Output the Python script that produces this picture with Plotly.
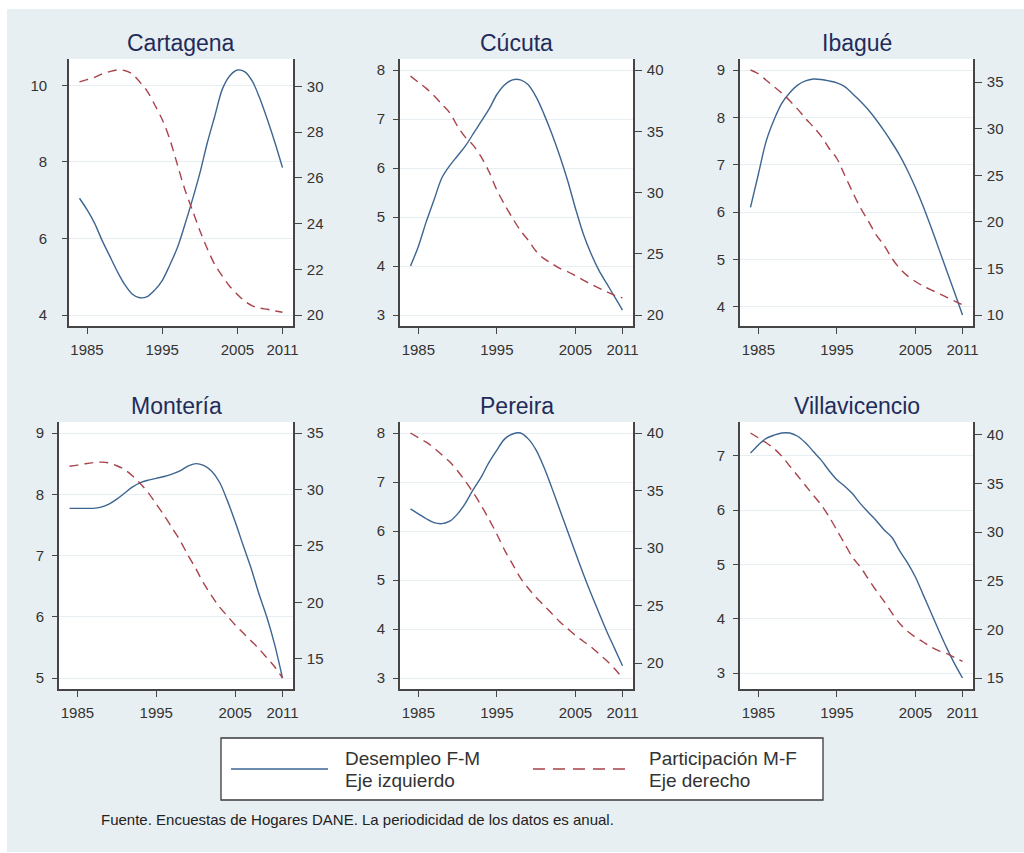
import plotly.graph_objects as go

# ---------------------------------------------------------------- data
years = list(range(1984, 2012))
x_ticks = [1985, 1995, 2005, 2011]

cities = ["Cartagena", "Cúcuta", "Ibagué", "Montería", "Pereira", "Villavicencio"]

# Desempleo F-M (left axis)
desempleo_cartagena = [7.05, 6.75, 6.4, 5.95, 5.55, 5.15, 4.8, 4.55, 4.45, 4.48, 4.65, 4.9, 5.3, 5.75,
                       6.35, 7.0, 7.7, 8.5, 9.2, 9.9, 10.25, 10.4, 10.35, 10.1, 9.65, 9.1, 8.5, 7.85]
desempleo_cucuta = [4.0, 4.4, 4.9, 5.35, 5.8, 6.05, 6.25, 6.45, 6.7, 6.95, 7.2, 7.5, 7.7, 7.8,
                    7.8, 7.7, 7.45, 7.1, 6.7, 6.25, 5.75, 5.18, 4.66, 4.25, 3.91, 3.64, 3.37, 3.1]
desempleo_ibague = [6.1, 6.8, 7.5, 7.95, 8.3, 8.52, 8.68, 8.77, 8.81, 8.8, 8.77, 8.73, 8.65, 8.5,
                    8.34, 8.16, 7.95, 7.72, 7.47, 7.2, 6.88, 6.52, 6.12, 5.68, 5.22, 4.76, 4.3, 3.83]
desempleo_monteria = [7.77, 7.77, 7.77, 7.77, 7.79, 7.84, 7.92, 8.02, 8.12, 8.19, 8.23, 8.26, 8.29, 8.33,
                      8.38, 8.46, 8.5, 8.47, 8.38, 8.2, 7.9, 7.55, 7.17, 6.8, 6.38, 6.0, 5.55, 5.0]
desempleo_pereira = [6.45, 6.35, 6.25, 6.17, 6.15, 6.2, 6.35, 6.57, 6.85, 7.1, 7.4, 7.65, 7.88, 7.98,
                     8.0, 7.88, 7.65, 7.3, 6.88, 6.44, 6.0, 5.56, 5.13, 4.72, 4.33, 3.95, 3.6, 3.25]
desempleo_villavicencio = [7.05, 7.2, 7.32, 7.38, 7.42, 7.42, 7.36, 7.24, 7.08, 6.92, 6.73, 6.56, 6.44, 6.3,
                           6.12, 5.96, 5.81, 5.64, 5.5, 5.25, 5.03, 4.77, 4.44, 4.11, 3.78, 3.46, 3.17, 2.91]

# Participación M-F (right axis)
participacion_cartagena = [30.2, 30.3, 30.4, 30.55, 30.65, 30.72, 30.7, 30.55, 30.2, 29.8, 29.2, 28.55, 27.7, 26.6,
                           25.5, 24.6, 23.7, 22.9, 22.2, 21.7, 21.25, 20.9, 20.6, 20.4, 20.3, 20.25, 20.18, 20.12]
participacion_cucuta = [39.5, 39.0, 38.5, 37.9, 37.2, 36.5, 35.4, 34.5, 33.85, 32.9, 31.7, 30.2, 29.0, 27.9,
                        26.9, 26.1, 25.2, 24.6, 24.2, 23.8, 23.55, 23.2, 22.85, 22.5, 22.2, 21.9, 21.6, 21.4]
participacion_ibague = [36.3, 35.9, 35.2, 34.5, 33.8, 33.0, 32.1, 31.1, 30.2, 29.2, 27.9, 26.8, 25.0, 23.2,
                        21.5, 20.1, 18.6, 17.5, 16.1, 15.0, 14.2, 13.6, 13.1, 12.7, 12.3, 11.9, 11.5, 11.1]
participacion_monteria = [32.05, 32.15, 32.28, 32.38, 32.42, 32.35, 32.1, 31.75, 31.2, 30.5, 29.7, 28.7, 27.7, 26.6,
                          25.5, 24.2, 23.0, 21.7, 20.6, 19.6, 18.8, 18.0, 17.3, 16.6, 15.9, 15.1, 14.3, 13.3]
participacion_pereira = [40.0, 39.6, 39.2, 38.7, 38.1, 37.5, 36.7, 35.8, 34.8, 33.7, 32.5, 31.2, 29.8, 28.6,
                         27.4, 26.5, 25.7, 25.0, 24.3, 23.6, 23.0, 22.4, 21.9, 21.4, 20.8, 20.2, 19.5, 18.7]
participacion_villavicencio = [40.2, 39.7, 39.2, 38.6, 37.8, 36.8, 35.8, 34.8, 33.8, 32.8, 31.6, 30.2, 28.8, 27.4,
                               26.4, 25.2, 24.0, 22.9, 21.7, 20.6, 19.8, 19.2, 18.7, 18.2, 17.8, 17.5, 17.1, 16.7]

left_ticks_cartagena = [4, 6, 8, 10]
left_ticks_cucuta = [3, 4, 5, 6, 7, 8]
left_ticks_ibague = [4, 5, 6, 7, 8, 9]
left_ticks_monteria = [5, 6, 7, 8, 9]
left_ticks_pereira = [3, 4, 5, 6, 7, 8]
left_ticks_villavicencio = [3, 4, 5, 6, 7]

right_ticks_cartagena = [20, 22, 24, 26, 28, 30]
right_ticks_cucuta = [20, 25, 30, 35, 40]
right_ticks_ibague = [10, 15, 20, 25, 30, 35]
right_ticks_monteria = [15, 20, 25, 30, 35]
right_ticks_pereira = [20, 25, 30, 35, 40]
right_ticks_villavicencio = [15, 20, 25, 30, 35, 40]

legend_blue = ["Desempleo F-M", "Eje izquierdo"]
legend_red = ["Participación M-F", "Eje derecho"]
source_note = "Fuente. Encuestas de Hogares DANE. La periodicidad de los datos es anual."

desempleo = [desempleo_cartagena, desempleo_cucuta, desempleo_ibague,
             desempleo_monteria, desempleo_pereira, desempleo_villavicencio]
participacion = [participacion_cartagena, participacion_cucuta, participacion_ibague,
                 participacion_monteria, participacion_pereira, participacion_villavicencio]
left_ticks = [left_ticks_cartagena, left_ticks_cucuta, left_ticks_ibague,
              left_ticks_monteria, left_ticks_pereira, left_ticks_villavicencio]
right_ticks = [right_ticks_cartagena, right_ticks_cucuta, right_ticks_ibague,
               right_ticks_monteria, right_ticks_pereira, right_ticks_villavicencio]

# ---------------------------------------------------------------- layout geometry (pixels)
W, H = 1024, 853
BG = "#e8eff2"
AXIS_COLOR = "#454545"
GRID_COLOR = "#e6eef1"
BLUE = "#3d6591"
RED = "#a8434b"
FONT = "Arial, 'Liberation Sans', sans-serif"

# plot boxes: (left, right, top, bottom)
boxes = [(69, 293, 59, 326), (400, 633, 59, 326), (740, 973, 59, 326),
         (59, 293, 422, 689), (400, 633, 422, 689), (740, 973, 422, 689)]
left_standoff = [12, 5, 5, 5, 5, 5]


def px(x):
    return x / W


def py(y):
    return 1 - y / H


def padded(lo, hi, span_px, pad_px):
    p = (hi - lo) * pad_px / (span_px - 2 * pad_px)
    return [lo - p, hi + p]


fig = go.Figure()
layout = dict(
    width=W, height=H,
    margin=dict(l=0, r=0, t=0, b=0, autoexpand=False),
    paper_bgcolor=BG, plot_bgcolor="white",
    showlegend=False,
    font=dict(family=FONT, color="#333333", size=15),
)

annotations = []
shapes = []

for i in range(6):
    n = i + 1
    xk = "x" if n == 1 else f"x{n}"
    yl = "y" if n == 1 else f"y{2 * n - 1}"
    yr = f"y{2 * n}"
    x0, x1, yt, yb = boxes[i]

    common = dict(showline=True, linecolor=AXIS_COLOR, linewidth=1.6, ticks="outside",
                  tickcolor=AXIS_COLOR, tickwidth=1.4, zeroline=False,
                  tickfont=dict(family=FONT, size=15, color="#333333"))

    layout["xaxis" if n == 1 else f"xaxis{n}"] = dict(
        domain=[px(x0), px(x1)], anchor=yl,
        range=padded(min(years), max(years), x1 - x0, 10.5),
        tickmode="array", tickvals=x_ticks, ticklen=6, ticklabelstandoff=3,
        showgrid=False, **common)

    lo = min(min(desempleo[i]), min(left_ticks[i]))
    hi = max(max(desempleo[i]), max(left_ticks[i]))
    layout["yaxis" if n == 1 else f"yaxis{2 * n - 1}"] = dict(
        domain=[py(yb), py(yt)], anchor=xk, side="left",
        range=padded(lo, hi, yb - yt, 11),
        tickmode="array", tickvals=left_ticks[i], ticklen=5,
        ticklabelstandoff=left_standoff[i],
        showgrid=True, gridcolor=GRID_COLOR, gridwidth=1.2, **common)

    lo = min(min(participacion[i]), min(right_ticks[i]))
    hi = max(max(participacion[i]), max(right_ticks[i]))
    layout[f"yaxis{2 * n}"] = dict(
        overlaying=yl, anchor=xk, side="right",
        range=padded(lo, hi, yb - yt, 11),
        tickmode="array", tickvals=right_ticks[i], ticklen=7, ticklabelstandoff=2,
        showgrid=False, **common)

    fig.add_trace(go.Scatter(x=years, y=desempleo[i], xaxis=xk, yaxis=yl, mode="lines",
                             line=dict(color=BLUE, width=1.4, shape="spline", smoothing=0.9),
                             name="Desempleo F-M"))
    fig.add_trace(go.Scatter(x=years, y=participacion[i], xaxis=xk, yaxis=yr, mode="lines",
                             line=dict(color=RED, width=1.4, dash="9px,6px", shape="spline",
                                       smoothing=0.9),
                             name="Participación M-F"))

    annotations.append(dict(text=cities[i], xref="paper", yref="paper",
                            x=px((x0 + x1) / 2), y=py(yt - 16), xanchor="center", yanchor="middle",
                            showarrow=False, font=dict(family=FONT, size=23, color="#1f2c5a")))

# white strips outside the graph background
shapes.append(dict(type="rect", xref="paper", yref="paper", x0=0, x1=px(7), y0=0, y1=1,
                   fillcolor="white", line=dict(width=0), layer="below"))
shapes.append(dict(type="rect", xref="paper", yref="paper", x0=0, x1=1, y0=py(9), y1=1,
                   fillcolor="white", line=dict(width=0), layer="below"))
shapes.append(dict(type="rect", xref="paper", yref="paper", x0=0, x1=1, y0=0, y1=py(852),
                   fillcolor="white", line=dict(width=0), layer="below"))

# legend box with its two keys
shapes.append(dict(type="rect", xref="paper", yref="paper", x0=px(221), x1=px(823),
                   y0=py(800), y1=py(738), fillcolor="white",
                   line=dict(color="#3a3a3a", width=1.3)))
shapes.append(dict(type="line", xref="paper", yref="paper", x0=px(231), x1=px(328),
                   y0=py(769), y1=py(769), line=dict(color=BLUE, width=1.6)))
shapes.append(dict(type="line", xref="paper", yref="paper", x0=px(533), x1=px(631),
                   y0=py(769), y1=py(769), line=dict(color=RED, width=1.6, dash="12px,8px")))
for texts, xpos in ((legend_blue, 343), (legend_red, 647)):
    for k, line_text in enumerate(texts):
        annotations.append(dict(text=line_text, xref="paper", yref="paper",
                                x=px(xpos), y=py(758 + 22 * k),
                                xanchor="left", yanchor="middle", align="left", showarrow=False,
                                font=dict(family=FONT, size=19, color="#333333")))

annotations.append(dict(text=source_note, xref="paper", yref="paper", x=px(99), y=py(819),
                        xanchor="left", yanchor="middle", showarrow=False,
                        font=dict(family=FONT, size=15, color="#222222")))

layout["annotations"] = annotations
layout["shapes"] = shapes
fig.update_layout(**layout)

fig.write_html("out.html")
